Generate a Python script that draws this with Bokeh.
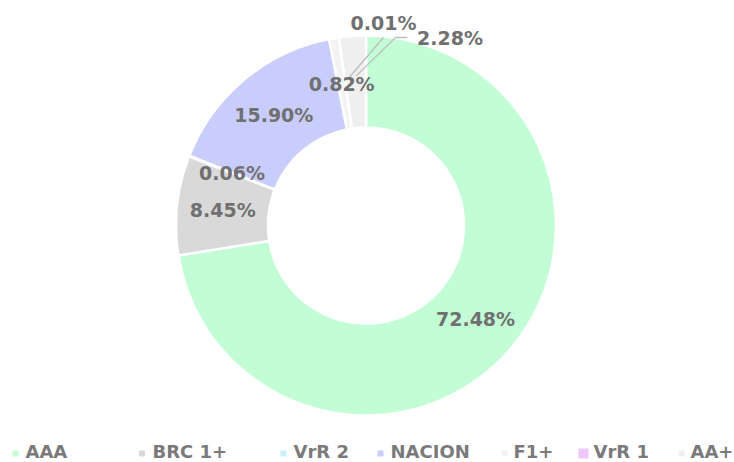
import math
from bokeh.plotting import figure
from bokeh.models import Range1d, ColumnDataSource
from bokeh.core.properties import value
from bokeh.embed import file_html
from bokeh.resources import INLINE

# ---- data ----
categories = ["AAA", "BRC 1+", "VrR 2", "NACION", "F1+", "VrR 1", "AA+"]
shares = [72.48, 8.45, 0.06, 15.90, 0.82, 0.01, 2.28]
colors = ["#c3fdd6", "#d9d9d9", "#c6eefc", "#c9cdfc", "#f3f3f3", "#f0c6fa", "#efefef"]

# ---- layout ----
W, H = 734, 462
def dx(px):
    return px
def dy(py):
    return H - py

CX, CY = dx(365.5), dy(225)
R_OUT, R_IN = 190, 98
R_LBL = (R_OUT + R_IN) / 2
FONT = value("DejaVu Sans")
LBL_COLOR = "#707070"

p = figure(width=W, height=H, x_range=Range1d(0, W), y_range=Range1d(0, H),
           output_backend="svg", toolbar_location=None,
           x_axis_type=None, y_axis_type=None, min_border=0)
p.grid.visible = False
p.outline_line_color = None
p.background_fill_color = "white"
p.border_fill_color = "white"

total = sum(shares)
starts, ends, mids = [], [], []
c = 0.0
for v in shares:
    a0 = c / total
    c += v
    a1 = c / total
    starts.append(math.pi / 2 - a0 * 2 * math.pi)
    ends.append(math.pi / 2 - a1 * 2 * math.pi)
    mids.append(math.pi / 2 - (a0 + a1) / 2 * 2 * math.pi)

src = ColumnDataSource(dict(start=starts, end=ends, color=colors, cat=categories))
p.annular_wedge(x=CX, y=CY, inner_radius=R_IN, outer_radius=R_OUT,
                start_angle="start", end_angle="end", direction="clock",
                fill_color="color", line_color="white", line_width=2.5, source=src)

# label positions
lx, ly, ltxt = [], [], []
offset_labels = {"VrR 1": (dx(383), dy(22)), "AA+": (dx(449.5), dy(37))}
for cat, v, m in zip(categories, shares, mids):
    if cat in offset_labels:
        x, y = offset_labels[cat]
    else:
        x = CX + R_LBL * math.cos(m)
        y = CY + R_LBL * math.sin(m)
    lx.append(x); ly.append(y); ltxt.append(f"{v:.2f}%")

# leader lines for displaced labels
def ring_pt(idx, r):
    return CX + r * math.cos(mids[idx]), CY + r * math.sin(mids[idx])

i1 = categories.index("VrR 1")
sx, sy = ring_pt(i1, 150)
p.line([sx + 5, dx(383)], [sy, dy(37)], line_color="#bdbdbd", line_width=1.3)
i2 = categories.index("AA+")
sx, sy = ring_pt(i2, 150)
p.line([sx + 1, dx(395), dx(407)], [sy, dy(37), dy(37)], line_color="#bdbdbd", line_width=1.3)

p.text(x=lx, y=ly, text=ltxt, text_font=FONT, text_font_style="bold",
       text_font_size="19px", text_color=LBL_COLOR, text_align="center",
       text_baseline="middle")

# ---- legend (manual) ----
leg_marker_ref = [15, 141.5, 283, 380, 504, 583, 681]
leg_text_ref = [25, 152, 293, 390, 513, 593, 690]
leg_sizes = [6, 6, 6, 6, 6, 10, 6]
p.scatter(x=[dx(r) for r in leg_marker_ref], y=[dy(453)] * len(categories), marker="square",
          size=leg_sizes, fill_color=colors, line_color=None)
p.text(x=[dx(r) for r in leg_text_ref], y=[dy(450.5)] * len(categories), text=categories,
       text_font=FONT, text_font_style="bold", text_font_size="18px",
       text_color="#7a7a7a", text_align="left", text_baseline="middle")

open("out.html", "w").write(file_html(p, INLINE))
